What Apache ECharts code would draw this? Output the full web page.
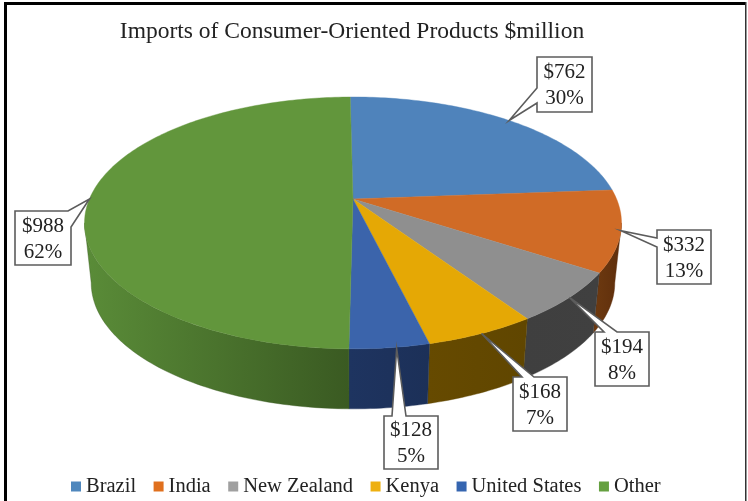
<!DOCTYPE html>
<html>
<head>
<meta charset="utf-8">
<style>html,body{margin:0;padding:0;background:#fff}#chart{width:748px;height:501px}</style>
<script src="https://cdn.jsdelivr.net/npm/echarts@6/dist/echarts.min.js"></script>
</head>
<body>
<div id="chart"></div>
<script>
// Imports by origin: dollar amounts and the percentages printed with them
const categories = ['Brazil', 'India', 'New Zealand', 'Kenya', 'United States', 'Other'];
const dollars = [762, 332, 194, 168, 128, 988];
const percents = [30, 13, 8, 7, 5, 62];

const topColors = ['#4f83bb', '#d06b26', '#8f8f8f', '#e5a805', '#3b64ab', '#62963c'];
const legendColors = ['#4f87bd', '#e0701e', '#a0a0a0', '#eeb010', '#3565b0', '#65a040'];
const wallStops = [
  ['#2c4a70', '#2c4a70'],
  ['#6e3a10', '#5e2e0c'],
  ['#3f3f3f', '#404040'],
  ['#664a00', '#604600'],
  ['#1e3460', '#1c3058'],
  ['#5a8c38', '#3a5a22']
];

// Projection of the tilted disc
const disc = { cx: 353, cy: 199, a: 263.6, b: 121.4, k: 0.19, startDeg: -0.72 };
const base = { scale: 0.975, drop: 60 };
const font = '"Liberation Serif", "Times New Roman", serif';

// Callout boxes: rectangle, the two points where the pointer leaves it,
// which corners come before and after the pointer, and a nudge for the tip
const calloutBoxes = [
  { x: 537, y: 57, w: 55, h: 55, p: [[537, 103], [537, 88]], before: [0, 1, 2, 3], after: [] },
  { x: 657, y: 230, w: 54, h: 54, p: [[657, 247], [657, 238]], before: [0, 1, 2, 3], after: [] },
  { x: 595, y: 332, w: 54, h: 54, p: [[604, 332], [617, 332]], before: [0], after: [1, 2, 3] },
  { x: 513, y: 377, w: 54, h: 54, p: [[522, 377], [534, 377]], before: [0], after: [1, 2, 3] },
  { x: 384, y: 416, w: 54, h: 53, p: [[392, 416], [406, 416]], before: [0], after: [1, 2, 3], nudge: [7, 1] },
  { x: 15, y: 211, w: 56, h: 54, p: [[68, 211], [71, 227]], before: [0], after: [2, 3] }
];

const total = percents.reduce((s, v) => s + v, 0);
const spans = [];
percents.reduce((acc, v) => {
  const end = acc + v / total * 360;
  spans.push([acc, end]);
  return end;
}, disc.startDeg);

// Clockwise degrees from the top of the disc to page coordinates
function rim(deg, onBase) {
  const r = deg * Math.PI / 180;
  const u = Math.sin(r), v = Math.cos(r);
  const s = 1 / (1 + disc.k * v);
  if (onBase) {
    return [disc.cx + base.scale * disc.a * u * s, disc.cy + base.drop - disc.b * v * s];
  }
  return [disc.cx + disc.a * u * s, disc.cy - disc.b * v * s];
}

function arc(t0, t1, onBase) {
  const pts = [];
  const n = Math.max(2, Math.ceil(Math.abs(t1 - t0)));
  for (let i = 0; i <= n; i++) pts.push(rim(t0 + (t1 - t0) * i / n, onBase));
  return pts;
}

// The outer wall shows only on the part of the rim facing the viewer
const limit = Math.acos(-disc.k) * 180 / Math.PI;

function renderSlice(index) {
  return function () {
    const [t0, t1] = spans[index];
    const children = [];
    const w0 = Math.max(t0, limit), w1 = Math.min(t1, 360 - limit);
    if (w1 > w0) {
      const stops = wallStops[index];
      children.push({
        type: 'polygon',
        z2: 1,
        shape: { points: arc(w0, w1, false).concat(arc(w1, w0, true)) },
        style: {
          fill: new echarts.graphic.LinearGradient(0, 0, 1, 0, [
            { offset: 0, color: stops[0] },
            { offset: 1, color: stops[1] }
          ]),
          stroke: stops[1],
          lineWidth: 0.4
        }
      });
    }
    children.push({
      type: 'polygon',
      z2: 2,
      shape: { points: [[disc.cx, disc.cy]].concat(arc(t0, t1, false)) },
      style: { fill: topColors[index], stroke: topColors[index], lineWidth: 0.4 }
    });
    return { type: 'group', children };
  };
}

function renderCallout(params, api) {
  const i = params.dataIndex;
  const box = calloutBoxes[i];
  const corners = [[box.x, box.y], [box.x + box.w, box.y], [box.x + box.w, box.y + box.h], [box.x, box.y + box.h]];
  const tip = rim((spans[i][0] + spans[i][1]) / 2, false);
  const nudge = box.nudge || [0, 0];
  const tipPt = [tip[0] + nudge[0], tip[1] + nudge[1]];
  const pts = box.before.map(c => corners[c]).concat([box.p[0], tipPt, box.p[1]], box.after.map(c => corners[c]));
  return {
    type: 'group',
    children: [
      {
        type: 'polygon',
        z2: 3,
        shape: { points: pts },
        style: { fill: '#fff', stroke: '#5c5c5c', lineWidth: 1.6, lineJoin: 'miter' }
      },
      {
        type: 'text',
        z2: 4,
        x: box.x + box.w / 2,
        y: box.y + box.h / 2 + 1,
        style: {
          text: '$' + api.value(1) + '\n' + api.value(0) + '%',
          fontFamily: font,
          fontSize: 21,
          lineHeight: 26,
          align: 'center',
          verticalAlign: 'middle',
          fill: '#222'
        }
      }
    ]
  };
}

const series = categories.map((name, i) => ({
  type: 'custom',
  name,
  coordinateSystem: 'none',
  silent: true,
  itemStyle: { color: legendColors[i] },
  data: [[percents[i], dollars[i]]],
  renderItem: renderSlice(i)
}));
series.push({
  type: 'custom',
  name: 'Callouts',
  coordinateSystem: 'none',
  silent: true,
  z: 5,
  data: categories.map((_, i) => [percents[i], dollars[i]]),
  renderItem: renderCallout
});

const chart = echarts.init(document.getElementById('chart'), null, { renderer: 'canvas' });
chart.setOption({
  animation: false,
  backgroundColor: '#fff',
  title: {
    text: 'Imports of Consumer-Oriented Products $million',
    left: 347,
    top: 15,
    textAlign: 'center',
    textStyle: { fontFamily: font, fontSize: 23.5, fontWeight: 'normal', color: '#222' }
  },
  legend: {
    data: categories,
    left: 66,
    top: 471,
    icon: 'rect',
    itemWidth: 10,
    itemHeight: 10,
    itemGap: 17.5,
    selectedMode: false,
    textStyle: { fontFamily: font, fontSize: 20.5, color: '#222' }
  },
  graphic: [
    { type: 'rect', z: 10, silent: true, shape: { x: 4, y: 2, width: 3, height: 499 }, style: { fill: '#000' } },
    { type: 'rect', z: 10, silent: true, shape: { x: 4, y: 2, width: 742, height: 3 }, style: { fill: '#000' } },
    { type: 'rect', z: 10, silent: true, shape: { x: 745, y: 2, width: 1.5, height: 499 }, style: { fill: '#333' } }
  ],
  series
});
</script>
</body>
</html>
